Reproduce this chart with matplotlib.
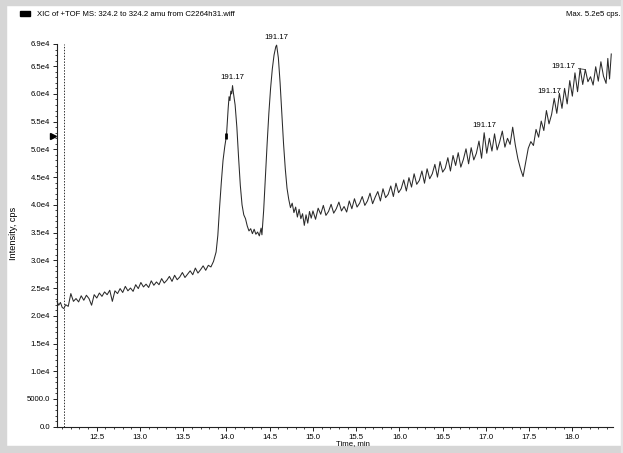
"""Extracted ion chromatogram (XIC) trace with peak m/z annotations."""
import matplotlib.pyplot as plt
from matplotlib.patches import Rectangle
from matplotlib.ticker import MultipleLocator, FixedLocator, FuncFormatter

plt.rcParams["font.family"] = ["Liberation Sans", "DejaVu Sans"]

TITLE = "XIC of +TOF MS: 324.2 to 324.2 amu from C2264h31.wiff"
MAX_TEXT = "Max. 5.2e5 cps."

# retention time (min) and intensity (cps)
time_min = [
    12.04, 12.06, 12.08, 12.10, 12.12, 12.14, 12.17, 12.20, 12.23, 12.26,
    12.29, 12.32, 12.35, 12.38, 12.41, 12.44, 12.47, 12.50, 12.53, 12.56,
    12.59, 12.62, 12.65, 12.68, 12.71, 12.74, 12.77, 12.80, 12.83, 12.86,
    12.89, 12.92, 12.95, 12.98, 13.01, 13.04, 13.07, 13.10, 13.13, 13.16,
    13.19, 13.22, 13.25, 13.28, 13.31, 13.34, 13.37, 13.40, 13.43, 13.46,
    13.49, 13.52, 13.55, 13.58, 13.61, 13.64, 13.67, 13.70, 13.73, 13.76,
    13.79, 13.82, 13.85,
    13.88, 13.90, 13.92, 13.94, 13.96, 13.98, 14.00, 14.02, 14.03,
    14.04, 14.05, 14.06, 14.07, 14.08, 14.10, 14.12, 14.14, 14.16, 14.18,
    14.20, 14.22, 14.24, 14.26, 14.28, 14.30, 14.32, 14.34, 14.36, 14.38,
    14.40, 14.41, 14.43, 14.45, 14.47, 14.49, 14.51, 14.53, 14.55, 14.57,
    14.58, 14.60, 14.62, 14.64, 14.66, 14.68, 14.70, 14.72, 14.74, 14.76,
    14.78, 14.80, 14.82, 14.84, 14.86, 14.88, 14.90, 14.92, 14.94, 14.96,
    14.98,
    15.00, 15.03, 15.06, 15.09, 15.12, 15.15, 15.18, 15.21, 15.24, 15.27,
    15.30, 15.33, 15.36, 15.39, 15.42, 15.45, 15.48, 15.51, 15.54, 15.57,
    15.60, 15.63, 15.66, 15.69, 15.72, 15.75, 15.78, 15.81, 15.84, 15.87,
    15.90, 15.93, 15.96, 15.99, 16.02, 16.05, 16.08, 16.11, 16.14, 16.17,
    16.20, 16.23, 16.26, 16.29, 16.32, 16.35, 16.38, 16.41, 16.44, 16.47,
    16.50, 16.53, 16.56, 16.59, 16.62, 16.65, 16.68, 16.71, 16.74, 16.77,
    16.80, 16.83, 16.86, 16.89, 16.92, 16.95, 16.98, 17.01, 17.04, 17.07,
    17.10, 17.13, 17.16, 17.19, 17.22, 17.25, 17.28, 17.31, 17.34, 17.37,
    17.40, 17.43, 17.46, 17.49, 17.52, 17.55, 17.58, 17.61, 17.64, 17.67,
    17.70, 17.73, 17.76, 17.79, 17.82, 17.85, 17.88, 17.91, 17.94, 17.97,
    18.00, 18.03, 18.06, 18.09, 18.12, 18.15, 18.18, 18.21, 18.24, 18.27,
    18.30, 18.33, 18.36, 18.39, 18.41, 18.43, 18.45,
]
intensity = [
    22600, 21900, 22400, 21500, 21300, 22000, 21700, 24000, 22600, 23100,
    22500, 23600, 22800, 23700, 23100, 21900, 23800, 23200, 24100, 23500,
    24300, 23800, 24600, 22600, 24500, 24000, 24900, 24200, 25300, 24500,
    25000, 24400, 25600, 24900, 26000, 25200, 25700, 25100, 26300, 25500,
    26100, 25600, 26700, 25900, 26400, 27100, 26200, 27300, 26500, 27000,
    27800, 26900, 27500, 28100, 27400, 28600, 27700, 28300, 29000, 28200,
    29100, 28800, 29800,
    31500, 34500, 39500, 44000, 48000, 50500, 52500, 57500, 59500,
    58800, 60500, 60000, 61500, 60200, 58000, 54000, 48500, 43500, 40000,
    38200, 37500, 36200, 35300, 35700, 34800, 35600, 34700, 35100, 34400,
    35800, 34600, 39000, 45000, 51000, 56500, 61000, 64500, 67000, 68500,
    68800, 66500, 62000, 56500, 51000, 46500, 43000, 41000, 39500, 40300,
    38600, 39600, 37800, 39200, 37500, 38400, 36300, 38200, 36700, 38800,
    37600,
    38900, 37400, 39400, 38300, 39900, 38100, 38800, 40100, 38500, 39300,
    40500, 38900, 39700, 38700, 40700, 39300, 41100, 39600, 40300, 41500,
    39900, 40700, 42100, 40200, 41400, 42400, 40700, 42900, 41300, 41900,
    43400, 41500, 43900, 42200, 42900, 44500, 42500, 44900, 43200, 45600,
    43700, 44400, 46100, 43900, 46500, 44700, 45600, 47300, 45000, 47800,
    45900, 46600, 48500, 46100, 48900, 47100, 49400, 46800, 48200, 50100,
    47400, 50300, 48100, 49300, 51500, 48400, 53000, 49300, 52000, 49700,
    52800, 49900, 51400, 53300, 50400, 52000, 50900, 54000, 50800, 48300,
    46500, 45100, 47600, 50200, 51400, 50700, 53600, 52200, 55100, 53400,
    57000, 54600, 56300, 59200, 56500, 60100, 57400, 61000, 58200, 62400,
    59600, 63800, 60400, 64600, 61700, 64400, 62200, 63100, 61600, 64900,
    62300, 65800, 63200, 61900, 66400, 62700, 67200,
]

# labelled apexes: (time, intensity, text offset in points, alignment)
peak_labels = [
    (14.07, 61500, (0, 3), "center"),
    (14.58, 68800, (0, 3), "center"),
    (16.98, 53000, (0, 3), "center"),
    (17.91, 61000, (-2, -2), "right"),
]
leader_label = (18.15, 64400)
label_text = "191.17"

# small marker on the rising edge of the first peak
edge_mark = (14.00, 52500)

cutoff_time = 12.12
y_ticks = [0, 5000, 10000, 15000, 20000, 25000, 30000, 35000, 40000,
           45000, 50000, 55000, 60000, 65000, 69000]
threshold_level = 52500

fig = plt.figure(figsize=(6.23, 4.53), dpi=100)
ax = fig.add_axes([57 / 623, 1 - 426.7 / 453, 556 / 623, 382.7 / 453])

ax.plot(time_min, intensity, color="#2a2a2a", lw=0.75, clip_on=False)
ax.plot([edge_mark[0]], [edge_mark[1]], marker="|", ms=5, mew=2,
        color="black", clip_on=False)
ax.axvline(cutoff_time, color="#333333", lw=0.7, ls=(0, (1.5, 1.5)))

fs = 5.6
for t, v, off, ha in peak_labels:
    va = "bottom" if ha == "center" else "center"
    ax.annotate(label_text, (t, v), xytext=off, textcoords="offset points",
                ha=ha, va=va, fontsize=fs)
ax.annotate(label_text, leader_label, xytext=(-7, 2),
            textcoords="offset points", ha="right", va="center",
            fontsize=fs,
            arrowprops=dict(arrowstyle="-", lw=0.6, color="#333333",
                            shrinkA=0, shrinkB=0))

ax.set_xlim(12.04, 18.47)
ax.set_ylim(0, 69000)
for side in ("top", "right"):
    ax.spines[side].set_visible(False)
for side in ("left", "bottom"):
    ax.spines[side].set_linewidth(0.8)
    ax.spines[side].set_color("#222222")

ax.xaxis.set_major_locator(MultipleLocator(0.5))
ax.xaxis.set_minor_locator(MultipleLocator(0.1))
ax.xaxis.set_major_formatter(FuncFormatter(lambda v, p: f"{v:.1f}"))
ax.yaxis.set_major_locator(FixedLocator(y_ticks))
ax.yaxis.set_minor_locator(MultipleLocator(1000))


def fmt_intensity(v, pos):
    if v == 0:
        return "0.0"
    if v < 10000:
        return f"{v:.1f}"
    return f"{v / 1e4:.1f}e4"


ax.yaxis.set_major_formatter(FuncFormatter(fmt_intensity))
ax.tick_params(axis="both", which="major", length=3, width=0.7,
               labelsize=fs, pad=2, color="#222222")
ax.tick_params(axis="both", which="minor", length=1.5, width=0.6,
               color="#222222")

# marker of the maximum level on the intensity axis
ax.plot([-0.008], [threshold_level], marker=">", ms=5, color="black",
        transform=ax.get_yaxis_transform(), clip_on=False)

fig.text(14 / 623, 1 - 233 / 453, "Intensity, cps", rotation=90,
         ha="center", va="center", fontsize=6.6)
fig.text(353 / 623, 1 - 444 / 453, "Time, min", ha="center", va="center",
         fontsize=fs)

# header line
fig.patches.append(Rectangle((20 / 623, 1 - 16 / 453), 10 / 623, 5 / 453,
                             transform=fig.transFigure, color="black"))
fig.text(37 / 623, 1 - 14 / 453, TITLE, ha="left", va="center", fontsize=fs)
fig.text(620 / 623, 1 - 14 / 453, MAX_TEXT, ha="right", va="center",
         fontsize=fs)

# window frame
frame = "#d6d6d6"
fig.patches.append(Rectangle((0, 1 - 5 / 453), 1, 5 / 453,
                             transform=fig.transFigure, color=frame))
fig.patches.append(Rectangle((0, 0), 6 / 623, 1,
                             transform=fig.transFigure, color=frame))
fig.patches.append(Rectangle((0, 0), 1, 7 / 453,
                             transform=fig.transFigure, color=frame))
fig.patches.append(Rectangle((621 / 623, 0), 2 / 623, 1,
                             transform=fig.transFigure, color="#e4e4e4"))

fig.savefig("out.png", dpi=100)
